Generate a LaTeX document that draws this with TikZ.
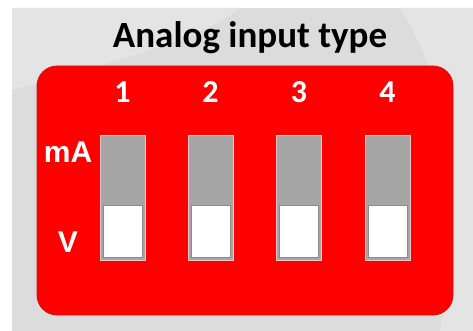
\documentclass[tikz,border=0pt]{standalone}
\usepackage{fontspec}
\setmainfont{Carlito}
\newfontfamily\labelfont{Liberation Sans}
\definecolor{panelgray}{RGB}{220,220,220}
\definecolor{panelhi}{RGB}{228,228,228}
\definecolor{boardred}{RGB}{255,0,0}
\definecolor{slidegray}{RGB}{166,166,166}
\tikzset{
  panel/.style={fill=panelgray, draw=none},
  board/.style={fill=boardred, draw={rgb,255:red,205;green,20;blue,20}, line width=0.8pt, rounded corners=20pt},
  title/.style={font=\bfseries\fontsize{37}{37}\selectfont, text=black, inner sep=0pt},
  chan/.style={font=\bfseries\fontsize{32}{32}\selectfont, text=white, inner sep=0pt},
  side/.style={font=\labelfont\bfseries\fontsize{30}{30}\selectfont, text=white, inner sep=0pt},
  switchbody/.style={fill=slidegray, draw={rgb,255:red,235;green,200;blue,200}, line width=1pt,
    minimum width=45pt, minimum height=124pt, inner sep=0pt},
  knob/.style={fill=white, draw={rgb,255:red,140;green,140;blue,140}, line width=1pt,
    minimum width=39pt, minimum height=52pt, inner sep=0pt}
}
\begin{document}
\begin{tikzpicture}[x=1pt,y=-1pt]
\useasboundingbox (0,0) rectangle (473,331);
\fill[white] (0,0) rectangle (473,331);
% grey panel with soft light arcs
\fill[panel] (12,8) rectangle (473,331);
\begin{scope}
  \clip (12,8) rectangle (473,331);
  \fill[panelhi] (12,8) -- (240,8) .. controls (200,40) and (120,60) .. (12,90) -- cycle;
  \fill[panelhi] (400,8) -- (473,8) -- (473,331) -- (440,331) .. controls (455,250) and (470,120) .. (400,8);
\end{scope}
% title
\node[title] (title) at (250,38) {Analog input type};
% red board
\draw[board] (37,66) rectangle (453,315);
% side labels
\node[side] (ma) at (68,152) {mA};
\node[side] (v) at (68,242) {V};
% four slide switches with channel numbers
\foreach \i/\x in {1/122.5, 2/210.5, 3/299, 4/387.5} {
  \node[chan] (n\i) at (\x,92) {\i};
  \node[switchbody] (s\i) at (\x,198) {};
  \node[knob, anchor=south] (k\i) at ([yshift=3pt]s\i.south) {};
}
\end{tikzpicture}
\end{document}
